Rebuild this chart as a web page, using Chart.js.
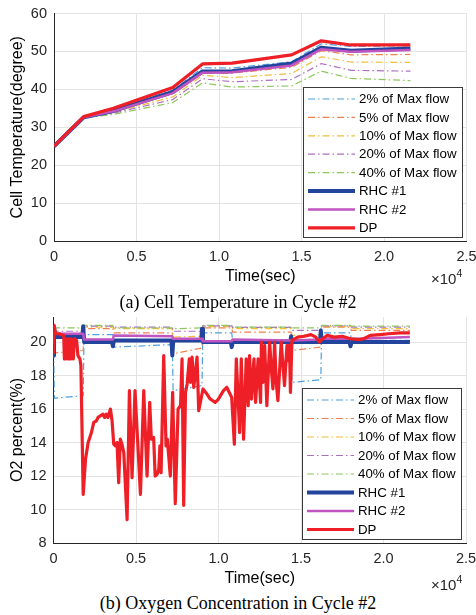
<!DOCTYPE html>
<html><head><meta charset="utf-8">
<script src="https://cdn.jsdelivr.net/npm/chart.js@4.4.1/dist/chart.umd.min.js"></script>
<style>
html,body{margin:0;padding:0;background:#fff;width:476px;height:615px;overflow:hidden;}
.wrap{position:absolute;left:0;}
canvas{display:block;}
.cap{position:absolute;left:0;width:476px;text-align:center;font-family:'Liberation Serif','Times New Roman',serif;font-size:18px;color:#000;line-height:20px;white-space:nowrap;}
.exp{position:absolute;font-family:'Liberation Sans',Arial,sans-serif;font-size:15px;color:#262626;line-height:16px;white-space:nowrap;}
.exp sup{font-size:10.5px;vertical-align:7px;line-height:0;}
</style></head>
<body>
<div class="wrap" style="top:0"><canvas id="c1" width="476" height="290"></canvas></div>
<div class="wrap" style="top:300px"><canvas id="c2" width="476" height="292"></canvas></div>
<div class="cap" style="top:292px">(a) Cell Temperature in Cycle #2</div>
<div class="cap" style="top:593px">(b) Oxygen Concentration in Cycle #2</div>
<div class="exp" style="left:431px;top:271px">×10<sup>4</sup></div>
<div class="exp" style="left:431px;top:577px">×10<sup>4</sup></div>
<script>
// ---------- DATA ----------
const seriesNames = ['2% of Max flow','5% of Max flow','10% of Max flow','20% of Max flow','40% of Max flow','RHC #1','RHC #2','DP'];
const xTicks = [0, 0.5, 1, 1.5, 2, 2.5];
const tempTicks = [0, 10, 20, 30, 40, 50, 60];
const o2Ticks = [8, 10, 12, 14, 16, 18, 20];

// (a) Cell temperature, time in 1e4 s
const tempTime  = [0, 0.09, 0.18, 0.36, 0.72, 0.9, 1.08, 1.44, 1.62, 1.8, 2.16];
const tempFlow2  = [25, 28.8, 32.6, 34.4, 39.8, 45.7, 45.6, 47.3, 52.0, 51.3, 51.5];
const tempFlow5  = [25, 28.8, 32.6, 34.2, 39.0, 44.3, 44.3, 45.8, 50.2, 49.1, 49.2];
const tempFlow10 = [25, 28.8, 32.6, 33.9, 38.0, 43.7, 43.1, 44.2, 48.6, 47.2, 47.1];
const tempFlow20 = [25, 28.8, 32.6, 33.7, 37.3, 42.8, 42.0, 42.6, 46.8, 45.0, 44.8];
const tempFlow40 = [25, 28.8, 32.5, 33.4, 36.5, 41.7, 40.6, 40.9, 44.8, 42.9, 42.3];
const tempRHC1   = [25, 28.8, 32.6, 34.3, 39.3, 44.7, 44.8, 46.8, 51.0, 50.2, 50.8];
const tempRHC2   = [25, 28.8, 32.6, 34.2, 39.0, 44.4, 44.5, 46.3, 50.6, 49.9, 50.4];
const tempDP     = [25, 29.0, 32.8, 35.0, 40.5, 46.7, 46.9, 49.1, 52.8, 51.7, 51.7];

// (b) O2 percent, [time (1e4 s), %]
const o2Flow2 = [[0,20.3],[0.005,16.65],[0.18,16.8],[0.185,20.45],[0.36,20.45],[0.365,19.7],[0.72,19.85],[0.725,17.1],[0.9,17.4],[0.905,20.55],[1.08,20.55],[1.085,20.15],[1.44,20.15],[1.445,17.6],[1.62,17.75],[1.625,20.55],[1.8,20.55],[1.805,20.1],[2.16,20.1]];
const o2Flow5 = [[0,20.4],[0.005,19.35],[0.18,19.5],[0.185,20.8],[0.36,20.8],[0.365,20.55],[0.72,20.55],[0.725,19.3],[0.9,19.65],[0.905,20.85],[1.08,20.85],[1.085,20.6],[1.44,20.6],[1.445,19.5],[1.62,19.7],[1.625,20.9],[1.8,20.9],[1.805,20.7],[2.16,20.7]];
const o2Flow10 = [[0,20.6],[0.005,20.2],[0.18,20.25],[0.185,20.9],[0.36,20.9],[0.365,20.8],[0.72,20.8],[0.725,20.3],[0.9,20.35],[0.905,20.92],[1.08,20.92],[1.085,20.8],[1.44,20.8],[1.445,20.4],[1.62,20.45],[1.625,20.92],[1.8,20.92],[1.805,20.8],[2.16,20.8]];
const o2Flow20 = [[0,20.8],[0.005,20.65],[0.18,20.65],[0.185,20.95],[0.36,20.95],[0.365,20.9],[0.72,20.9],[0.725,20.65],[0.9,20.65],[0.905,20.97],[1.08,20.97],[1.085,20.88],[1.44,20.88],[1.445,20.7],[1.62,20.7],[1.625,20.97],[1.8,20.97],[1.805,20.9],[2.16,20.9]];
const o2Flow40 = [[0,20.9],[0.005,20.85],[0.18,20.85],[0.185,21.0],[0.36,21.0],[0.365,20.85],[0.72,20.85],[0.725,20.8],[0.9,20.85],[0.905,21.0],[1.08,21.0],[1.085,20.9],[1.44,20.9],[1.445,20.85],[1.62,20.85],[1.625,21.0],[1.8,21.0],[1.805,20.95],[2.16,20.95]];
const o2RHC1 = [[0,19.2],[0.003,20.9],[0.01,20.3],[0.175,20.3],[0.18,20.95],[0.186,20.0],[0.355,20.0],[0.36,19.75],[0.366,20.1],[0.715,20.1],[0.72,19.2],[0.726,20.1],[0.895,20.1],[0.9,20.8],[0.906,20.0],[1.075,20.0],[1.08,19.7],[1.086,20.0],[1.435,20.0],[1.44,20.35],[1.446,20.0],[1.615,20.0],[1.62,20.7],[1.626,20.0],[1.795,20.0],[1.8,19.75],[1.806,20.0],[2.16,20.0]];
const o2RHC2 = [[0,20.6],[0.01,20.5],[0.18,20.5],[0.185,20.15],[0.36,20.15],[0.365,20.4],[0.72,20.35],[0.725,20.2],[0.9,20.2],[0.905,20.05],[1.08,20.05],[1.085,20.15],[1.44,20.1],[1.445,20.1],[1.62,20.15],[1.625,20.2],[1.8,20.2],[1.85,20.2],[2.16,20.3]];
const o2DP = [[0,19.3],[0.004,21.0],[0.012,20.5],[0.035,20.5],[0.062,20.4],
 [0.066,19.0],[0.071,20.2],[0.076,19.0],[0.082,20.2],[0.088,19.0],[0.093,20.2],[0.1,19.0],[0.106,20.2],[0.115,20.1],[0.12,19.0],[0.126,20.2],[0.14,20.1],[0.148,19.2],[0.16,19.0],[0.166,18.6],[0.18,10.9],
 [0.194,13.0],[0.21,14.0],[0.23,14.6],[0.244,15.2],[0.26,15.3],[0.27,15.5],[0.285,15.6],[0.3,15.7],[0.31,15.5],[0.32,15.7],[0.33,15.5],[0.345,16.0],[0.355,15.3],[0.365,13.9],[0.375,13.8],[0.385,14.0],[0.395,11.6],[0.405,14.2],[0.415,13.9],[0.426,13.4],[0.446,9.4],[0.46,17.1],[0.476,11.9],[0.494,17.1],[0.527,10.9],[0.547,17.1],[0.567,12.0],[0.583,16.4],[0.593,14.2],[0.607,14.3],[0.616,12.0],[0.628,12.1],[0.638,12.4],[0.645,13.8],[0.652,12.2],[0.668,19.2],[0.682,13.8],[0.69,14.2],[0.708,12.0],[0.722,17.0],[0.738,10.35],[0.755,16.0],[0.77,16.2],[0.779,19.0],[0.789,10.25],[0.8,17.0],[0.81,17.5],[0.823,19.0],[0.83,17.6],[0.84,19.1],[0.85,17.3],[0.87,19.1],[0.88,15.9],[0.906,17.2],[0.93,16.9],[0.95,16.6],[0.98,16.4],[1.0,16.6],[1.03,17.1],[1.05,17.3],[1.08,16.7],
 [1.096,13.9],[1.108,19.0],[1.128,14.6],[1.138,19.0],[1.152,14.2],[1.168,19.0],[1.18,16.2],[1.188,19.2],[1.2,16.6],[1.215,19.0],[1.225,16.4],[1.24,19.0],[1.255,16.4],[1.26,20.0],[1.27,17.6],[1.28,19.8],[1.293,16.2],[1.31,20.0],[1.32,18.4],[1.33,17.2],[1.34,20.0],[1.35,17.6],[1.36,16.5],[1.38,20.0],[1.4,17.4],[1.415,19.8],[1.423,18.9],[1.43,19.8],[1.436,17.0],
 [1.445,20.1],[1.48,20.3],[1.52,20.35],[1.56,20.45],[1.59,20.3],[1.61,20.0],[1.63,20.2],[1.66,20.4],[1.7,20.3],[1.75,20.35],[1.8,20.2],[1.85,20.15],[1.88,20.2],[1.92,20.4],[1.98,20.45],[2.03,20.5],[2.1,20.55],[2.16,20.55]];

// ---------- STYLES ----------
const colors = ['#4C9FE0','#F0804F','#F2BE3C','#AD6FC0','#8CC85A','#22449C','#C054C0','#EE1F26'];
const widths = [1.2,1.2,1.2,1.2,1.2,4,2.5,3.2];
const DASHDOT = [7,3,1.5,3];
const dashes = [DASHDOT,DASHDOT,DASHDOT,DASHDOT,DASHDOT,[],[],[]];
const FONT = '"Liberation Sans", Arial, sans-serif';
const AX = '#262626';

function makeDatasets(seriesPts){
  return seriesPts.map((pts,i)=>({
    label: seriesNames[i],
    data: pts.map(p=>({x:p[0],y:p[1]})),
    borderColor: colors[i], backgroundColor: colors[i],
    borderWidth: widths[i], borderDash: dashes[i],
    pointRadius: 0, tension: 0, fill: false,
    borderJoinStyle: 'round', borderCapStyle: 'butt',
    order: seriesNames.length - 1 - i
  }));
}

const legendPlugin = {
  id: 'boxLegend',
  afterDraw(chart, args, opts){
    const ctx = chart.ctx, a = chart.chartArea;
    const w = 160, h = opts.h;
    const x0 = Math.round(a.right - opts.dr - w), y0 = Math.round(a.bottom - opts.db - h);
    ctx.save();
    ctx.fillStyle = '#fff'; ctx.fillRect(x0, y0, w, h);
    ctx.strokeStyle = '#3a3a3a'; ctx.lineWidth = 1; ctx.setLineDash([]);
    ctx.strokeRect(x0 + 0.5, y0 + 0.5, w - 1, h - 1);
    ctx.font = 'normal 400 13.3px ' + FONT; ctx.textBaseline = 'middle'; ctx.textAlign = 'left';
    chart.data.datasets.forEach((ds, i) => {
      const y = y0 + 12 + i * opts.step;
      ctx.beginPath(); ctx.setLineDash(ds.borderDash || []);
      ctx.strokeStyle = ds.borderColor; ctx.lineWidth = ds.borderWidth;
      ctx.moveTo(x0 + 5, y); ctx.lineTo(x0 + 52, y); ctx.stroke();
      ctx.setLineDash([]); ctx.fillStyle = '#000';
      ctx.fillText(ds.label, x0 + 56, y + 0.5);
    });
    ctx.restore();
  }
};

function makeChart(id, datasets, yMin, yMax, yTickVals, yTitle, pad, yW, legendOpts){
  return new Chart(document.getElementById(id), {
    type: 'line',
    data: { datasets },
    plugins: [legendPlugin],
    options: {
      responsive: false, animation: false, devicePixelRatio: 1,
      layout: { padding: pad },
      plugins: { legend: {display:false}, tooltip: {enabled:false}, boxLegend: legendOpts },
      scales: {
        x: {
          type: 'linear', min: 0, max: 2.5,
          afterBuildTicks: s => { s.ticks = xTicks.map(v => ({value:v})); },
          afterFit: s => { s.height = 49; s.paddingLeft = 0; s.paddingRight = 0; },
          grid: { color: '#e3e3e3', drawTicks: false },
          border: { color: AX, width: 1 },
          ticks: { color: AX, padding: 7, autoSkip: false, maxRotation: 0, font: {family: FONT, size: 14.5, weight: 'normal'} },
          title: { display: true, text: 'Time(sec)', color: '#000', font: {family: FONT, size: 16, weight: 'normal'}, padding: {top:0, bottom:3.4} }
        },
        y: {
          type: 'linear', min: yMin, max: yMax,
          afterBuildTicks: s => { s.ticks = yTickVals.map(v => ({value:v})); },
          afterFit: s => { s.width = yW; s.paddingTop = 0; s.paddingBottom = 0; },
          grid: { color: '#e3e3e3', drawTicks: false },
          border: { color: AX, width: 1 },
          ticks: { color: AX, padding: 7, font: {family: FONT, size: 14.5, weight: 'normal'} },
          title: { display: true, text: yTitle, color: '#000', font: {family: FONT, size: 16, weight: 'normal'}, padding: {top:8, bottom:0} }
        }
      }
    }
  });
}

const tempSeries = [tempFlow2,tempFlow5,tempFlow10,tempFlow20,tempFlow40,tempRHC1,tempRHC2,tempDP]
  .map(vals => vals.map((v,k) => [tempTime[k], v]));
makeChart('c1', makeDatasets(tempSeries), 0, 60, tempTicks, 'Cell Temperature(degree)',
  {left:0, right:9.5, top:13.5, bottom:0}, 54, {h:151, step:18.4, dr:3.5, db:3});

const o2Series = [o2Flow2,o2Flow5,o2Flow10,o2Flow20,o2Flow40,o2RHC1,o2RHC2,o2DP];
makeChart('c2', makeDatasets(o2Series), 8, 21.5, o2Ticks, 'O2 percent(%)',
  {left:0, right:10, top:17, bottom:0}, 53.5, {h:152, step:18.5, dr:4, db:3});
</script>
</body></html>
